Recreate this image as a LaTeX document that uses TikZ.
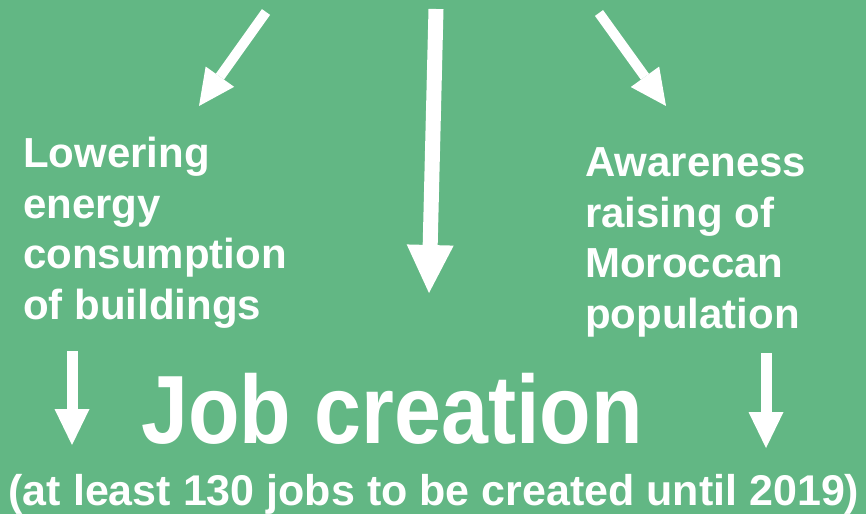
\documentclass[tikz,border=0pt]{standalone}
\usepackage{fontspec}
\setmainfont{Liberation Sans}
\usepackage{xcolor}
\usetikzlibrary{arrows.meta}

\definecolor{bggreen}{RGB}{98,183,132}

\begin{document}
\begin{tikzpicture}[x=1pt, y=-1pt,
    label/.style={text=white, inner sep=0pt, align=left, font=\bfseries\fontsize{42}{50.5}\selectfont},
    thinarrow/.style={draw=white, line width=11pt, -{Triangle[length=36pt, width=35pt, line width=0pt]}},
    thickarrow/.style={draw=white, line width=15pt, -{Triangle[length=48pt, width=47pt, line width=0pt]}}]
    % Background
    \fill[bggreen] (0,0) rectangle (866,514);
    \useasboundingbox (0,0) rectangle (866,514);

    % Side texts (base anchor is the last line)
    \node[label, anchor=base west] (lowering) at (23,319) {Lowering\\energy\\consumption\\of buildings};
    \node[label, anchor=base west] (awareness) at (585,328) {Awareness\\raising of\\Moroccan\\population};

    % Result
    \node[text=white, inner sep=0pt, anchor=base, font=\bfseries\fontsize{97}{110}\selectfont, xscale=0.87, transform shape] (job) at (392,443) {Job creation};
    \node[label, anchor=base, font=\bfseries\fontsize{43}{50}\selectfont] (target) at (434,505) {(at least 130 jobs to be created until 2019)};

    % Arrow ends
    \coordinate (lefttop) at (266,12);
    \coordinate (lefttip) at (199,106);
    \coordinate (midtop) at (436,9);
    \coordinate (midtip) at (429,293);
    \coordinate (righttop) at (599,13);
    \coordinate (righttip) at (666,106);
    \coordinate (lowtop) at (72,351);
    \coordinate (lowtip) at (72,445);
    \coordinate (awtop) at (766,353);
    \coordinate (awtip) at (766,448);

    % Arrows
    \draw[thinarrow, line width=10pt] (lefttop) -- (lefttip);
    \draw[thickarrow] (midtop) -- (midtip);
    \draw[thinarrow, line width=10pt] (righttop) -- (righttip);
    \draw[thinarrow] (lowtop) -- (lowtip);
    \draw[thinarrow] (awtop) -- (awtip);
\end{tikzpicture}
\end{document}
